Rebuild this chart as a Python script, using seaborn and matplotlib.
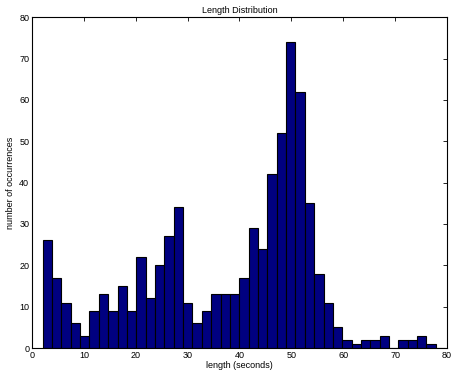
import numpy as np
import pandas as pd
import matplotlib
matplotlib.use("Agg")
import matplotlib.pyplot as plt
import seaborn as sns

counts = [26, 17, 11, 6, 3, 9, 13, 9, 15, 9, 22, 12, 20, 27, 34, 11, 6, 9, 13, 13,
          13, 17, 29, 24, 42, 52, 74, 62, 35, 18, 11, 5, 2, 1, 2, 2, 3, 0, 2, 2,
          3, 1, 0]
bin_start = 2.05
bin_width = 1.805
x_ticks = [0, 10, 20, 30, 40, 50, 60, 70, 80]
y_ticks = [0, 10, 20, 30, 40, 50, 60, 70, 80]

edges = bin_start + bin_width * np.arange(len(counts) + 1)
centers = (edges[:-1] + edges[1:]) / 2
df = pd.DataFrame({"length": centers, "count": counts})

sns.set_style("white")
plt.rcParams['font.family'] = ['Liberation Sans', 'DejaVu Sans']
plt.rcParams['text.color'] = 'black'
plt.rcParams['axes.labelcolor'] = 'black'

fig = plt.figure(figsize=(4.51, 3.73), dpi=100)
ax = fig.add_axes([0.071, 0.067, 0.92, 0.887])
sns.histplot(data=df, x="length", weights="count", bins=list(edges), ax=ax,
             color="#000080", edgecolor="black", linewidth=0.8, alpha=1.0)

ax.set_xlim(0, 80)
ax.set_ylim(0, 80)
ax.set_xticks(x_ticks)
ax.set_yticks(y_ticks)
ax.tick_params(direction="in", top=True, right=True, length=3, width=0.6,
               labelsize=6.5, pad=2, colors="black")
for s in ax.spines.values():
    s.set_visible(True)
    s.set_color("black")
    s.set_linewidth(0.8)
ax.set_title("Length Distribution", fontsize=6.5, pad=3, color="black")
ax.set_xlabel("length (seconds)", fontsize=6.5, labelpad=1, color="black")
ax.set_ylabel("number of occurrences", fontsize=6.5, labelpad=3, color="black")
fig.savefig("out.png", dpi=100)
